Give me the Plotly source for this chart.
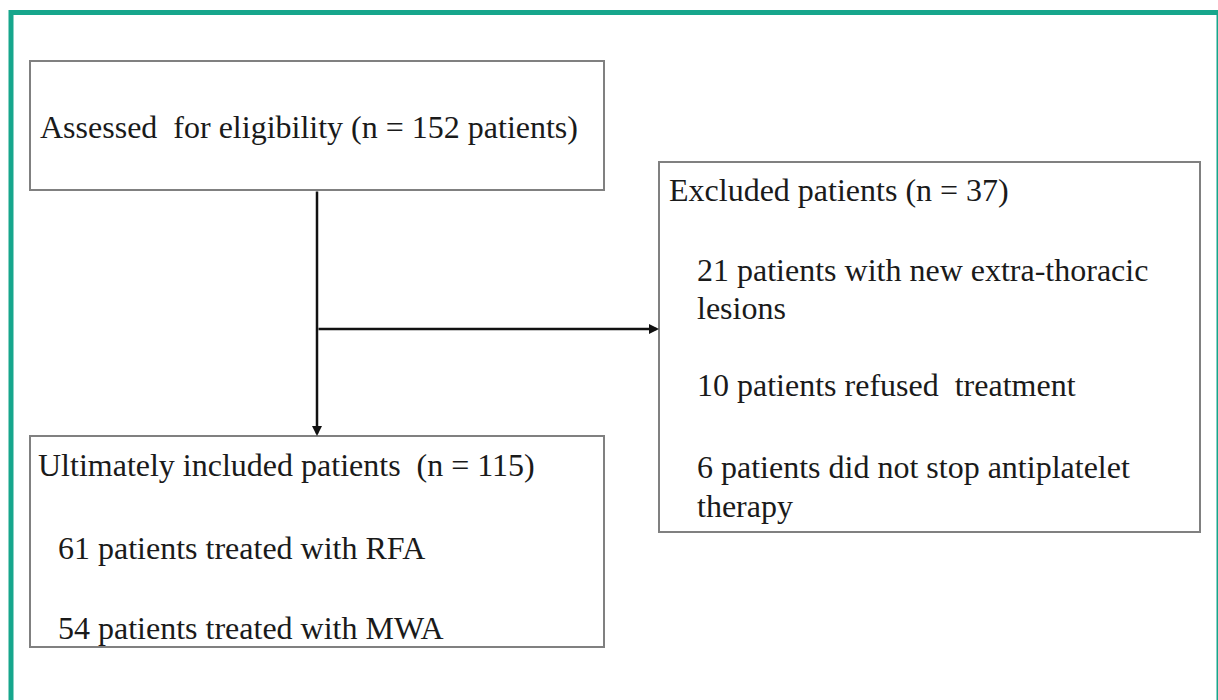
import plotly.graph_objects as go

# ---- content ----
top_label = "Assessed  for eligibility (n = 152 patients)"
excluded_title = "Excluded patients (n = 37)"
excluded_lines = [
    "21 patients with new extra-thoracic",
    "lesions",
    "10 patients refused  treatment",
    "6 patients did not stop antiplatelet",
    "therapy",
]
included_title = "Ultimately included patients  (n = 115)"
included_lines = [
    "61 patients treated with RFA",
    "54 patients treated with MWA",
]

# ---- layout geometry (pixel-like coordinates) ----
W, H = 1218, 700
FONT = "Liberation Serif, Times New Roman, serif"
FS = 32
TXT = "#1a1a1a"
BOX = "#808080"
TEAL = "#16a68c"

boxes = [(30, 61, 604, 190), (659, 162, 1200, 532), (30, 436, 604, 647)]

fig = go.Figure()
shapes = []
# outer teal frame
shapes.append(dict(type="rect", x0=11, y0=12.5, x1=1219, y1=720,
                   line=dict(color=TEAL, width=5), fillcolor="rgba(0,0,0,0)"))
for (x0, y0, x1, y1) in boxes:
    shapes.append(dict(type="rect", x0=x0, y0=y0, x1=x1, y1=y1,
                       line=dict(color=BOX, width=2), fillcolor="white"))

annotations = []
def txt(x, y, s):
    annotations.append(dict(x=x, y=y, text=s, showarrow=False, xanchor="left",
                            yanchor="middle", font=dict(family=FONT, size=FS, color=TXT)))

txt(38, 127, top_label)
txt(667, 190, excluded_title)
ex_y = [270, 308, 385, 467, 506]
for s, y in zip(excluded_lines, ex_y):
    txt(695, y, s)
txt(36, 465, included_title)
for s, y in zip(included_lines, [548, 628]):
    txt(56, y, s)

# arrows
def arrow(x0, y0, x1, y1):
    annotations.append(dict(x=x1, y=y1, ax=x0, ay=y0, xref="x", yref="y",
                            axref="x", ayref="y", showarrow=True, arrowhead=2,
                            arrowsize=0.8, arrowwidth=2.5, arrowcolor="#111", text=""))

arrow(317, 190, 317, 436)
arrow(317, 329, 659, 329)

fig.update_layout(
    width=W, height=H, margin=dict(l=0, r=0, t=0, b=0),
    paper_bgcolor="white", plot_bgcolor="white",
    xaxis=dict(range=[0, W], visible=False, fixedrange=True),
    yaxis=dict(range=[H, 0], visible=False, fixedrange=True),
    shapes=shapes, annotations=annotations, showlegend=False,
)
fig.write_html("out.html", config={"displayModeBar": False},
               post_script="document.body.style.margin='0';document.body.style.overflow='hidden';")
